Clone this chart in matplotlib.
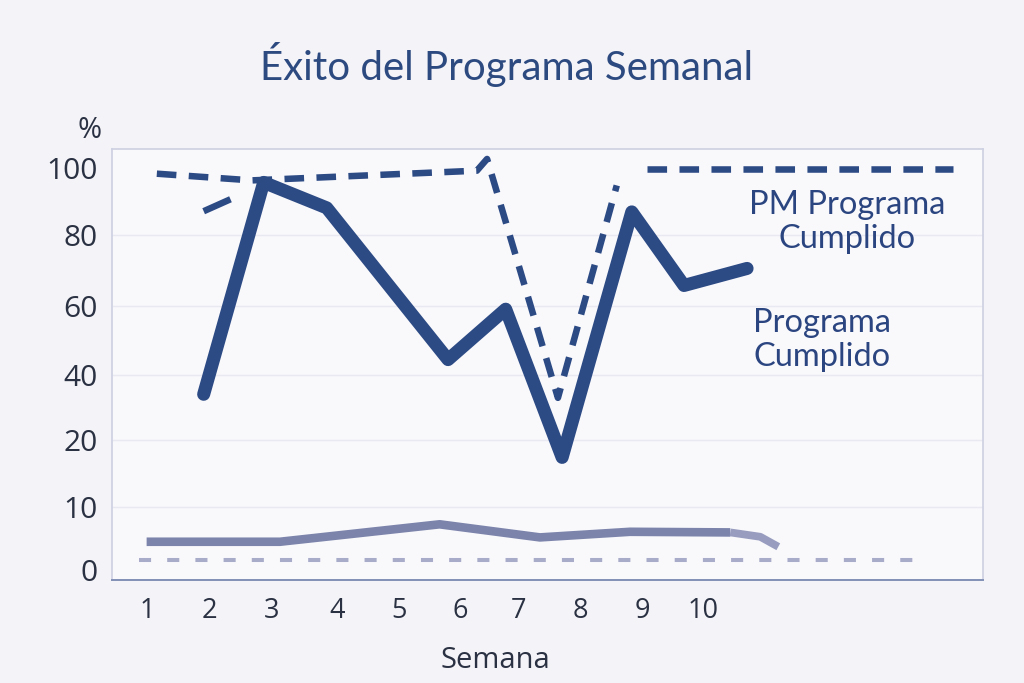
"""
Éxito del Programa Semanal - 折线图复刻
"""

import numpy as np
import matplotlib
matplotlib.use('Agg')
import matplotlib.pyplot as plt

# 数据
weeks_cumplido = [2, 3, 4.05, 6.07, 7.03, 7.97, 9.13, 10, 11.05]
pct_cumplido = [34, 95.6, 88, 44.4, 59, 17.4, 86.8, 65.7, 70.5]

weeks_pm = [1.22, 2.8, 6.55, 6.72, 7.9, 8.88]
pct_pm = [98.2, 96.2, 99.1, 102.6, 32.9, 94.7]
weeks_pm_meta = [9.38, 14.48]
pct_pm_meta = [99.7, 99.7]
weeks_pm_inicio = [2, 3]
pct_pm_inicio = [87, 95]

weeks_base = [1.05, 3.27, 5.93, 7.6, 9.1, 10.77]
pct_base = [4.5, 4.5, 7.3, 5.2, 6.1, 6.0]
weeks_base_tail = [10.77, 11.27, 11.57]
pct_base_tail = [6.0, 5.3, 3.7]
weeks_ref = [0.93, 13.9]
pct_ref = [1.6, 1.6]

# 刻度
y_tick_values = [0, 10, 20, 40, 60, 80, 100]
y_tick_pos = [0, 0.93, 1.94, 2.91, 3.94, 5.0, 6.0]
x_tick_labels = ['1', '2', '3', '4', '5', '6', '7', '8', '9', '10']
x_tick_pos = [1.07, 2.1, 3.13, 4.22, 5.25, 6.27, 7.25, 8.27, 9.3, 10.32]

# 颜色
NAVY = '#2c4a84'
GRAY_LINE = '#7c84ab'
GRAY_TAIL = '#989dbf'
REF_LINE = '#a9acc9'
TEXT_DARK = '#2a3142'
BG = '#f4f3f8'

# 非均匀纵轴: 值 -> 位置 (两端线性外推)
_vals = np.array([-50.0] + y_tick_values + [150.0])
_pos = np.array([-50 * 0.093] + y_tick_pos + [6.0 + 50 * 0.05])


def fwd(v):
    return np.interp(v, _vals, _pos)


def inv(p):
    return np.interp(p, _pos, _vals)


fig = plt.figure(figsize=(10.24, 6.83), dpi=100, facecolor=BG)
ax = fig.add_axes([0.109, 0.151, 0.851, 0.631])
ax.set_facecolor('#f9f9fc')
ax.set_yscale('function', functions=(fwd, inv))

# 网格线
for v in y_tick_values[1:-1]:
    ax.axhline(v, color='#e9e9f1', lw=1.0, zorder=0)

# 参考虚线与底部线
ax.plot(weeks_ref, pct_ref, color=REF_LINE, lw=2.9, dashes=(3, 4), zorder=2)
ax.plot(weeks_base, pct_base, color=GRAY_LINE, lw=6.2, solid_capstyle='butt',
        solid_joinstyle='round', zorder=3)
ax.plot(weeks_base_tail, pct_base_tail, color=GRAY_TAIL, lw=5.6,
        solid_capstyle='butt', solid_joinstyle='round', zorder=3)

# PM Programa Cumplido (虚线)
ax.plot(weeks_pm, pct_pm, color=NAVY, lw=4.7, dashes=(3.0, 1.9), zorder=4)
ax.plot(weeks_pm_meta, pct_pm_meta, color=NAVY, lw=4.7, dashes=(3.0, 1.9), zorder=4)
ax.plot(weeks_pm_inicio, pct_pm_inicio, color=NAVY, lw=4.7, dashes=(4.5, 8), zorder=4)

# Programa Cumplido (实线)
ax.plot(weeks_cumplido, pct_cumplido, color=NAVY, lw=9.4, solid_capstyle='round',
        solid_joinstyle='round', zorder=5)

ax.set_xlim(0.467, 14.98)
ax.set_ylim(inv(-0.15), inv(6.28))

ax.set_yticks(y_tick_values)
ax.set_yticklabels([str(v) for v in y_tick_values], fontsize=21.5,
                   family=['Open Sans', 'DejaVu Sans'], color=TEXT_DARK)
ax.yaxis.set_minor_locator(matplotlib.ticker.NullLocator())
ax.set_xticks(x_tick_pos)
ax.set_xticklabels(x_tick_labels, fontsize=19.5,
                   family=['Open Sans', 'DejaVu Sans'], color=TEXT_DARK)
ax.tick_params(axis='y', length=0, pad=10)
ax.tick_params(axis='x', length=0, pad=12)

for side in ['top', 'left', 'right']:
    ax.spines[side].set_color('#cdd0e2')
    ax.spines[side].set_linewidth(1.2)
ax.spines['bottom'].set_color('#8290b6')
ax.spines['bottom'].set_linewidth(1.4)

# 文本
fig.text(0.495, 1 - 80 / 683, 'Éxito del Programa Semanal', ha='center', va='baseline',
         fontsize=29, color='#2d4a80', family=['Lato', 'DejaVu Sans'])
fig.text(0.0996, 1 - 130 / 683, '%', ha='right', va='center', fontsize=21,
         color=TEXT_DARK, family=['Open Sans', 'DejaVu Sans'])
fig.text(0.484, 1 - 661 / 683, 'Semana', ha='center', va='center', fontsize=21,
         color=TEXT_DARK, family=['Open Sans', 'DejaVu Sans'])
fig.text(0.827, 1 - 222 / 683, 'PM Programa\nCumplido', ha='center', va='center',
         fontsize=23.5, color='#2b4580', linespacing=1.2, family=['Lato', 'DejaVu Sans'])
fig.text(0.803, 1 - 340 / 683, 'Programa\nCumplido', ha='center', va='center',
         fontsize=23.5, color='#2b4580', linespacing=1.2, family=['Lato', 'DejaVu Sans'])

fig.savefig('out.png', dpi=100, facecolor=BG)
